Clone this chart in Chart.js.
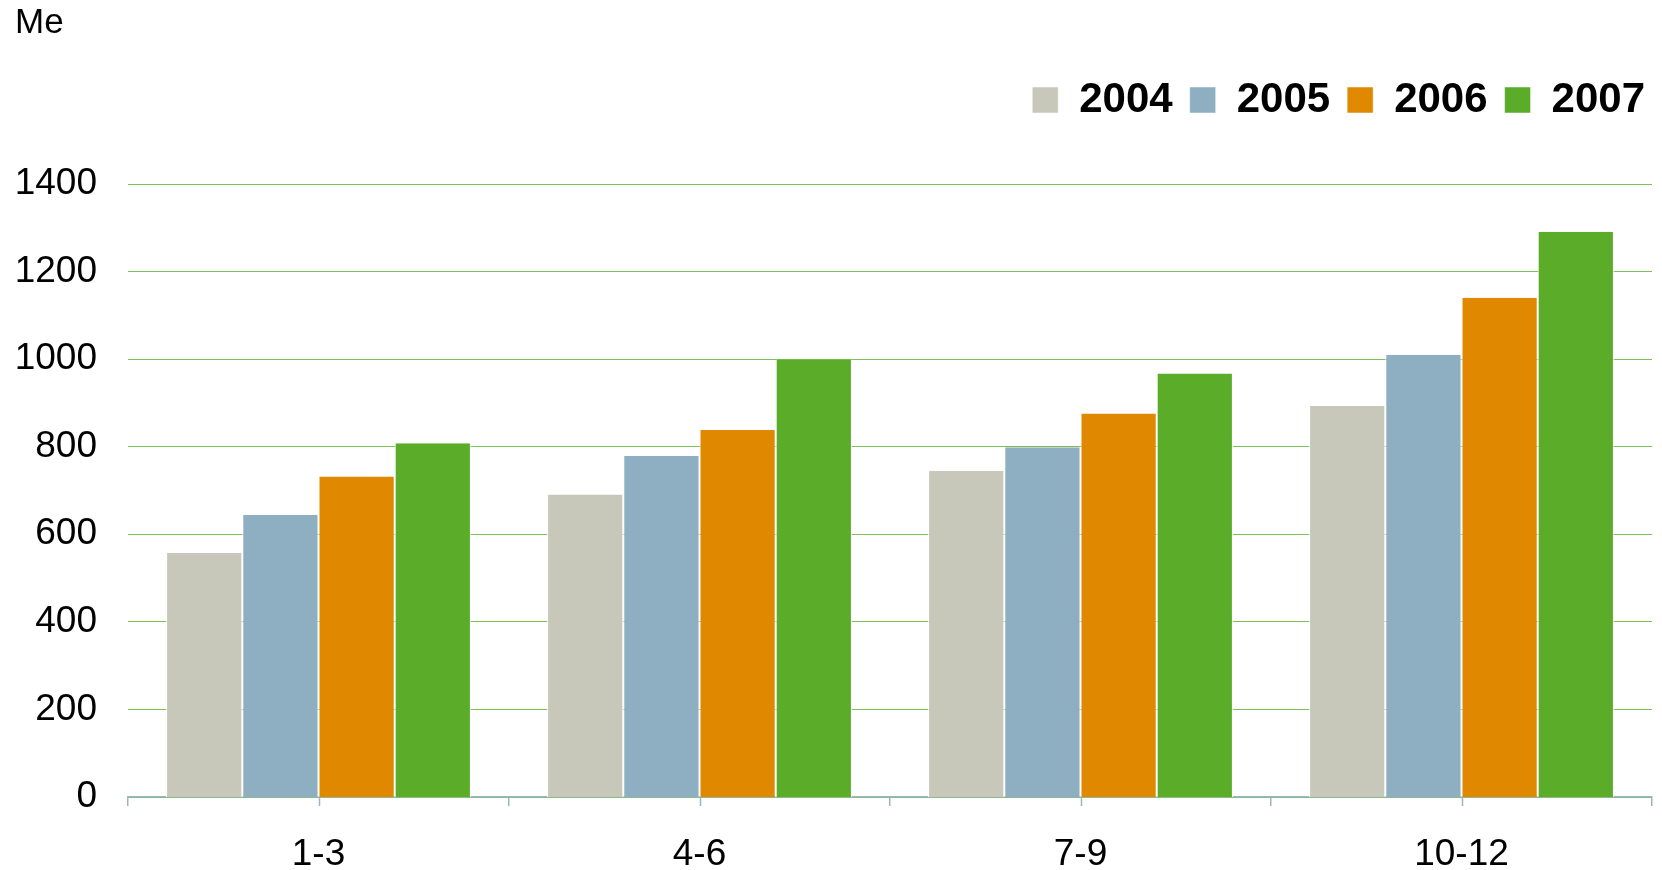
<!DOCTYPE html>
<html>
<head>
<meta charset="utf-8">
<script src="https://cdn.jsdelivr.net/npm/chart.js@4"></script>
<style>
    body { margin: 0; background: #fff; }
    #wrap { width: 1662px; height: 870px; }
</style>
</head>
<body>
<div id="wrap"><canvas id="chart" width="1662" height="870"></canvas></div>
<script>
var categories = ['1-3', '4-6', '7-9', '10-12'];
var years = ['2004', '2005', '2006', '2007'];
var s2004 = [557, 691, 745, 893];
var s2005 = [644, 779, 799, 1010];
var s2006 = [732, 838, 876, 1140];
var s2007 = [808, 999, 967, 1291];
var yTicks = [0, 200, 400, 600, 800, 1000, 1200, 1400];
var colors = ['#C8C8BA', '#8EAEC1', '#E08900', '#5AAC29'];

var axisFont = { family: 'Liberation Sans, Arial, sans-serif', size: 37, lineHeight: 1 };

// short tick marks under each category center
var centerTicks = {
    id: 'centerTicks',
    afterDraw: function (chart) {
        var xs = chart.scales.x;
        var ctx = chart.ctx;
        ctx.save();
        ctx.strokeStyle = '#9BB4C8';
        ctx.lineWidth = 1.5;
        for (var i = 0; i < categories.length; i++) {
            var x = Math.round(xs.getPixelForValue(i)) + 0.5;
            ctx.beginPath();
            ctx.moveTo(x, xs.top);
            ctx.lineTo(x, xs.top + 9);
            ctx.stroke();
        }
        ctx.restore();
    }
};

function makeDataset(i, values) {
    return {
        label: years[i],
        data: values,
        backgroundColor: colors[i],
        borderColor: '#ffffff',
        borderWidth: { left: 1, right: 1, top: 0, bottom: 0 },
        categoryPercentage: 0.8,
        barPercentage: 1.0
    };
}

function emptyAxis(type, pos, fit) {
    return {
        type: type,
        position: pos,
        display: true,
        grid: { display: false },
        border: { display: false },
        ticks: { display: false },
        afterFit: fit
    };
}

new Chart(document.getElementById('chart'), {
    type: 'bar',
    data: {
        labels: categories,
        datasets: [
            makeDataset(0, s2004),
            makeDataset(1, s2005),
            makeDataset(2, s2006),
            makeDataset(3, s2007)
        ]
    },
    options: {
        responsive: false,
        animation: false,
        devicePixelRatio: 1,
        layout: { padding: { left: 15, right: 0, top: 2, bottom: 0 } },
        plugins: {
            title: {
                display: true,
                text: 'Me',
                align: 'start',
                color: '#000',
                font: { family: 'Liberation Sans, Arial, sans-serif', size: 35, weight: 'normal' },
                padding: { top: 0, bottom: 18 }
            },
            legend: {
                display: true,
                position: 'top',
                align: 'end',
                labels: {
                    color: '#000',
                    boxWidth: 26,
                    boxHeight: 26,
                    padding: 17,
                    font: { family: 'Liberation Sans, Arial, sans-serif', size: 42, weight: 'bold' }
                }
            },
            tooltip: { enabled: false }
        },
        scales: {
            x: {
                grid: {
                    offset: true,
                    drawOnChartArea: false,
                    drawTicks: true,
                    tickLength: 9,
                    color: '#9BB4C8',
                    lineWidth: 1.5
                },
                border: { color: '#9BB4C8', width: 1.5 },
                ticks: { color: '#000', padding: 30, font: axisFont },
                afterFit: function (axis) { axis.height = 73; }
            },
            // empty spacers: gap under the legend, margin at the right
            spacerTop: emptyAxis('category', 'top', function (axis) { axis.height = 53; }),
            spacerRight: emptyAxis('linear', 'right', function (axis) { axis.width = 10; }),
            y: {
                min: 0,
                max: 1400,
                afterBuildTicks: function (axis) {
                    axis.ticks = yTicks.map(function (v) { return { value: v }; });
                },
                grid: {
                    color: '#7CC152',
                    lineWidth: 1,
                    drawTicks: false
                },
                border: { display: false },
                ticks: {
                    color: '#000',
                    padding: 31,
                    font: axisFont,
                    callback: function (value) { return String(value); }
                },
                afterFit: function (axis) { axis.width = 113; }
            }
        }
    },
    plugins: [centerTicks]
});
</script>
</body>
</html>
